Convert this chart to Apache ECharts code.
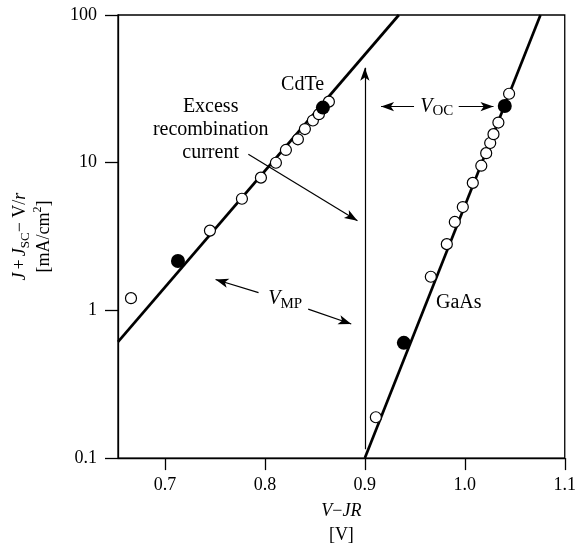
<!DOCTYPE html>
<html>
<head>
<meta charset="utf-8">
<script src="https://cdn.jsdelivr.net/npm/echarts@6/dist/echarts.min.js"></script>
<style>
  html, body { margin: 0; padding: 0; background: #fff; }
  #chart { width: 579px; height: 552px; }
</style>
</head>
<body>
<div id="chart"></div>
<script>
// x ticks and y ticks
var xTicks = [0.7, 0.8, 0.9, 1.0, 1.1];
var yTicks = [0.1, 1, 10, 100];

// CdTe measured points (open) and max-power / fitted points (filled)
var cdteOpenX = [0.666, 0.745, 0.777, 0.796, 0.811, 0.821, 0.833, 0.840, 0.848, 0.854, 0.864];
var cdteOpenY = [1.21, 3.47, 5.70, 7.92, 9.99, 12.2, 14.4, 16.9, 19.3, 21.3, 25.9];
var cdteFillX = [0.713, 0.858];
var cdteFillY = [2.16, 23.6];
var cdteLineX = [0.653, 0.934];
var cdteLineY = [0.612, 100];

// GaAs
var gaasOpenX = [0.911, 0.966, 0.982, 0.990, 0.998, 1.008, 1.0165, 1.0214, 1.0254, 1.0287, 1.0336, 1.0443];
var gaasOpenY = [0.189, 1.69, 2.81, 3.97, 5.01, 7.30, 9.54, 11.6, 13.6, 15.6, 18.7, 29.3];
var gaasFillX = [0.939, 1.040];
var gaasFillY = [0.603, 24.2];
var gaasLineX = [0.9, 1.0757];
var gaasLineY = [0.1, 100];

function pairs(xs, ys) { return xs.map(function (x, i) { return [x, ys[i]]; }); }

var FONT = 'Liberation Serif';

// annotation arrows (data coords): [from, to]
var arrows = [
  [[0.9, 0.115], [0.9, 44]],
  [[0.7834, 11.4], [0.8926, 4.05]],
  [[0.7936, 1.32], [0.7506, 1.62]],
  [[0.8433, 1.02], [0.8864, 0.809]],
  [[0.9492, 24.0], [0.9162, 24.0]],
  [[0.9939, 24.0], [1.0287, 24.0]]
];

var chart = echarts.init(document.getElementById('chart'));

var subRich = {
  i: { fontStyle: 'italic', fontSize: 18, lineHeight: 24, fontFamily: FONT },
  n: { fontSize: 18, lineHeight: 24, fontFamily: FONT },
  sub: { fontSize: 13, lineHeight: 16, verticalAlign: 'bottom', fontFamily: FONT },
  sup: { fontSize: 12, lineHeight: 14, verticalAlign: 'top', fontFamily: FONT }
};

var openStyle = { color: '#fff', borderColor: '#000', borderWidth: 1.2, opacity: 1 };
var fillStyle = { color: '#000', opacity: 1 };

var option = {
  animation: false,
  textStyle: { fontFamily: FONT, color: '#000' },
  grid: {
    left: 117, right: 12, top: 15, bottom: 91,
    show: true, borderColor: '#000', borderWidth: 1.3
  },
  xAxis: {
    type: 'value',
    min: 0.653,
    max: 1.1,
    name: '{i|V}{n|−}{i|JR}\n{n|[V]}',
    nameLocation: 'middle',
    nameGap: 38,
    nameTextStyle: { rich: subRich, lineHeight: 24 },
    axisLine: { lineStyle: { color: '#000', width: 1.3 } },
    axisTick: { customValues: xTicks, length: 12, lineStyle: { color: '#000', width: 1.3 } },
    axisLabel: {
      customValues: xTicks,
      margin: 18, fontSize: 18, color: '#000', fontFamily: FONT,
      formatter: function (v) { return v.toFixed(1); }
    },
    splitLine: { show: false }
  },
  yAxis: {
    type: 'log',
    logBase: 10,
    min: 0.1,
    max: 100,
    name: '{i|J} {n|+} {i|J}{sub|SC}{n|− V/}{i|r}\n{n|[mA/cm}{sup|2}{n|]}',
    nameLocation: 'middle',
    nameRotate: 90,
    nameGap: 62,
    nameTextStyle: { rich: subRich, lineHeight: 24 },
    axisLine: { lineStyle: { color: '#000', width: 1.3 } },
    axisTick: { length: 13, lineStyle: { color: '#000', width: 1.3 } },
    axisLabel: {
      margin: 21, fontSize: 18, color: '#000', fontFamily: FONT,
      formatter: function (v) { return String(v); }
    },
    minorTick: { show: false },
    splitLine: { show: false }
  },
  series: [
    {
      name: 'CdTe fit', type: 'line', data: pairs(cdteLineX, cdteLineY),
      showSymbol: false, lineStyle: { color: '#000', width: 2.7 }, z: 2
    },
    {
      name: 'GaAs fit', type: 'line', data: pairs(gaasLineX, gaasLineY),
      showSymbol: false, lineStyle: { color: '#000', width: 2.7 }, z: 2
    },
    {
      name: 'CdTe', type: 'scatter', data: pairs(cdteOpenX, cdteOpenY),
      symbol: 'circle', symbolSize: 11, itemStyle: openStyle, z: 3
    },
    {
      name: 'GaAs', type: 'scatter', data: pairs(gaasOpenX, gaasOpenY),
      symbol: 'circle', symbolSize: 11, itemStyle: openStyle, z: 3
    },
    {
      name: 'CdTe MP', type: 'scatter', data: pairs(cdteFillX, cdteFillY),
      symbol: 'circle', symbolSize: 14, itemStyle: fillStyle, z: 4
    },
    {
      name: 'GaAs MP', type: 'scatter', data: pairs(gaasFillX, gaasFillY),
      symbol: 'circle', symbolSize: 14, itemStyle: fillStyle, z: 4
    },
    {
      name: 'arrows', type: 'scatter', data: [],
      markLine: {
        silent: true,
        symbol: ['none', 'arrow'],
        symbolSize: [7, 13],
        label: { show: false },
        lineStyle: { color: '#000', width: 1.2, type: 'solid' },
        data: arrows.map(function (a) { return [{ coord: a[0] }, { coord: a[1] }]; })
      }
    }
  ]
};
chart.setOption(option);

// text annotations placed in data coords
var notes = [
  { at: [0.8377, 33.8], text: 'CdTe' },
  { at: [0.7457, 16.6], text: 'Excess\nrecombination\ncurrent', lh: 23 },
  { at: [0.972, 24.0], text: '{v|V}{s|OC}' },
  { at: [0.8202, 1.19], text: '{v|V}{s|MP}' },
  { at: [0.9939, 1.12], text: 'GaAs' }
];
var richV = {
  v: { fontStyle: 'italic', fontSize: 20, lineHeight: 24, fontFamily: FONT },
  s: { fontSize: 15, lineHeight: 16, verticalAlign: 'bottom', fontFamily: FONT }
};
chart.setOption({
  graphic: notes.map(function (n) {
    var p = chart.convertToPixel({ gridIndex: 0 }, n.at);
    return {
      type: 'text', x: p[0], y: p[1], z: 10,
      style: {
        text: n.text, fill: '#000', font: '20px "' + FONT + '"',
        align: 'center', verticalAlign: 'middle',
        lineHeight: n.lh || 24, rich: richV
      }
    };
  })
});
</script>
</body>
</html>
